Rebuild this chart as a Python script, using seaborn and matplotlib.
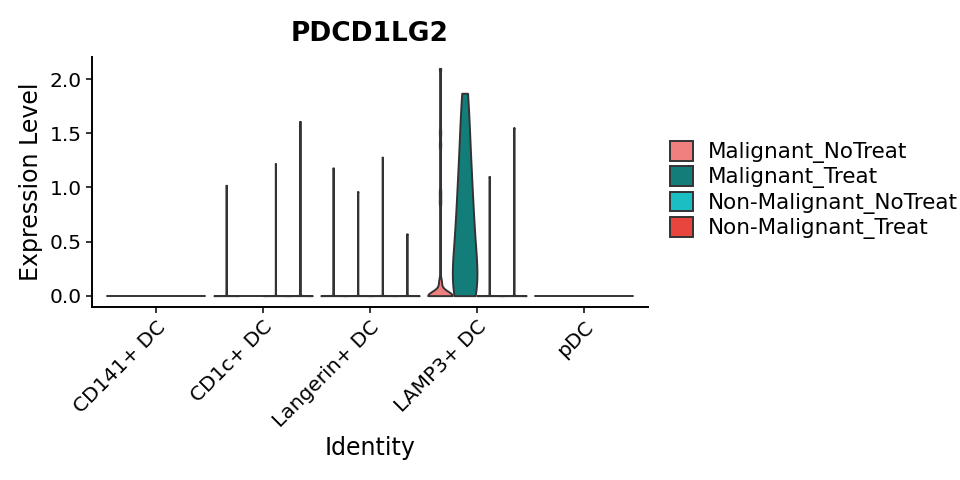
import numpy as np
import pandas as pd
import seaborn as sns
from matplotlib import pyplot as plt

identities = ["CD141+ DC", "CD1c+ DC", "Langerin+ DC", "LAMP3+ DC", "pDC"]
groups = ["Malignant_NoTreat", "Malignant_Treat", "Non-Malignant_NoTreat", "Non-Malignant_Treat"]
palette = ["#F07F7F", "#137E79", "#1ABEC3", "#E8453C"]

# cells with zero expression: one row per identity, one column per group
zero_cells = [
    [38, 24, 52, 30],
    [64, 41, 58, 47],
    [45, 33, 50, 28],
    [18, 5, 35, 26],
    [30, 18, 40, 21],
]

# expression of the remaining cells, same layout
cd141_values = [[], [], [], []]
cd1c_values = [[1.02], [], [1.22], [1.61]]
langerin_values = [[1.18], [0.96], [1.28], [0.57]]
lamp3_values = [
    [0.12, 0.13, 0.86, 0.96, 1.39, 1.51, 2.10],
    [0.02, 0.07, 0.12, 0.17, 0.22, 0.28, 0.33, 0.39, 0.44, 0.50, 0.56, 0.63, 0.69,
     0.76, 0.83, 0.91, 0.98, 1.07, 1.16, 1.25, 1.36, 1.47, 1.61, 1.77, 1.87],
    [1.10],
    [1.55],
]
pdc_values = [[], [], [], []]

values_by_identity = [cd141_values, cd1c_values, langerin_values, lamp3_values, pdc_values]

rows = []
for identity, zeros, values in zip(identities, zero_cells, values_by_identity):
    for group, n_zero, vals in zip(groups, zeros, values):
        rows += [(identity, group, 0.0)] * n_zero
        rows += [(identity, group, v) for v in vals]
expression = pd.DataFrame(rows, columns=["Identity", "group", "Expression Level"])


def nrd0(kde) -> float:
    # ggplot-like bandwidth (bw.nrd0), tiny when most cells are zero
    x = kde.dataset.ravel()
    sd = x.std(ddof=1)
    if sd == 0:
        return 1.0
    q75, q25 = np.percentile(x, [75, 25])
    lo = min(sd, (q75 - q25) / 1.34)
    bw = 0.9 * lo * len(x) ** -0.2 if lo > 0 else 1e-3
    return bw / sd


sns.set_style("ticks")
plt.rcParams["font.family"] = ["DejaVu Sans"]

fig = plt.figure(figsize=(9.6, 4.8), dpi=100)
ax = fig.add_axes([92 / 960, 1 - 307 / 480, 556 / 960, 250 / 480])

sns.violinplot(
    expression,
    x="Identity",
    y="Expression Level",
    hue="group",
    order=identities,
    hue_order=groups,
    palette=palette,
    saturation=1,
    density_norm="width",
    cut=0,
    bw_method=nrd0,
    gridsize=1000,
    width=0.92,
    gap=0,
    inner=None,
    linecolor="#333333",
    linewidth=1.4,
    ax=ax,
)

ax.set_xlim(-0.6, 4.6)
ax.set_ylim(-0.105, 2.205)
ax.set_yticks([0, 0.5, 1.0, 1.5, 2.0])
ax.set_yticklabels(["0.0", "0.5", "1.0", "1.5", "2.0"])
ax.tick_params(axis="both", labelsize=14.5, length=4, width=1.1, color="black", labelcolor="black")
plt.setp(ax.get_xticklabels(), rotation=45, ha="right", va="top", rotation_mode="anchor")

sns.despine(ax=ax)
for side in ["left", "bottom"]:
    ax.spines[side].set_linewidth(1.4)
    ax.spines[side].set_color("black")

ax.set_title("PDCD1LG2", fontsize=19, fontweight="bold", pad=11.5, color="black")
ax.set_xlabel("Identity", fontsize=17, color="black")
ax.set_ylabel("Expression Level", fontsize=17, labelpad=5, color="black")

sns.move_legend(
    ax,
    "center left",
    bbox_to_anchor=(1.0396, 0.468),
    frameon=False,
    title=None,
    fontsize=15.5,
    handlelength=1.05,
    handleheight=1.05,
    handletextpad=0.72,
    labelspacing=0.14,
    borderpad=0,
    borderaxespad=0,
)
for text in ax.get_legend().get_texts():
    text.set_color("black")

plt.savefig("out.png", dpi=100)
